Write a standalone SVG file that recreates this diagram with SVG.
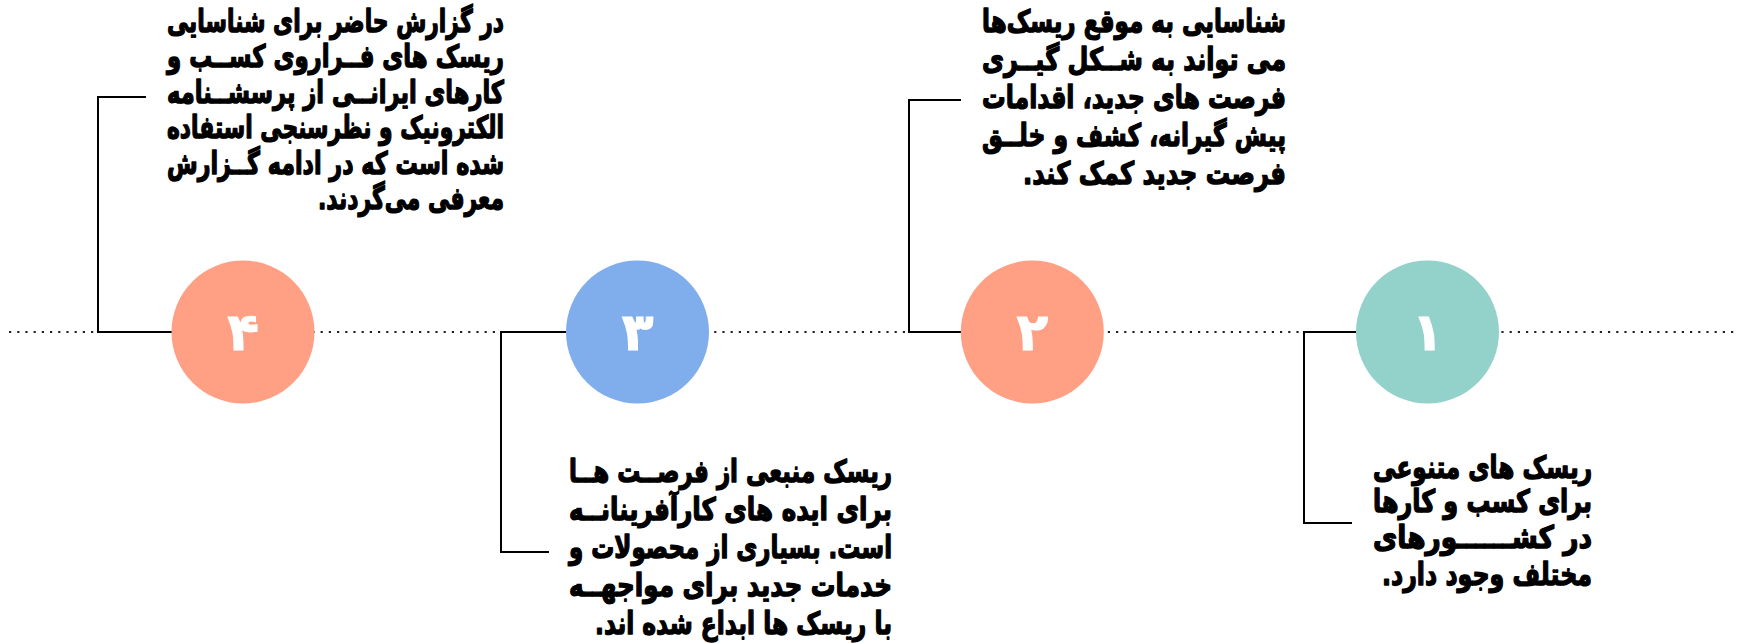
<svg xmlns="http://www.w3.org/2000/svg" width="1737" height="643" viewBox="0 0 1737 643">
<style>
.bg{fill:#ffffff}
.dots{stroke:#222;stroke-width:2.2;stroke-dasharray:2.2 6;fill:none}
.br{stroke:#000;stroke-width:2;fill:none}
.c-salmon{fill:#FFA085}
.c-blue{fill:#80ADEC}
.c-teal{fill:#93D2CB}
.num{font-family:"DejaVu Sans",sans-serif;font-weight:bold;font-size:52px;fill:#fff;stroke:#fff;stroke-width:1px;text-anchor:middle}
.t{font-family:"DejaVu Sans",sans-serif;font-weight:bold;font-size:31px;fill:#000;stroke:#000;stroke-width:1.4px;stroke-linejoin:round;direction:rtl;text-anchor:start}
</style>
<rect class="bg" x="0" y="0" width="1737" height="643"/>
<g id="connectors">
<line class="dots" x1="9" y1="332" x2="1737" y2="332"/>
<path class="br" d="M146,97 H98 V332 H172"/>
<path class="br" d="M566,332 H501 V552 H549"/>
<path class="br" d="M961,100 H909 V332 H961"/>
<path class="br" d="M1356,332 H1304 V523 H1352"/>
</g>
<g id="node4">
<circle class="c-salmon" cx="243" cy="332" r="71.5"/>
<text class="num" x="243" y="350">۴</text>
<text class="t" x="504" y="31.7" textLength="337" lengthAdjust="spacingAndGlyphs">در گزارش حاضر برای شناسایی</text>
<text class="t" x="504" y="67.2" textLength="337" lengthAdjust="spacingAndGlyphs">ریسک های فــراروی کســب و</text>
<text class="t" x="504" y="102.7" textLength="337" lengthAdjust="spacingAndGlyphs">کارهای ایرانــی از پرسشــنامه</text>
<text class="t" x="504" y="138.2" textLength="337" lengthAdjust="spacingAndGlyphs">الکترونیک و نظرسنجی استفاده</text>
<text class="t" x="504" y="173.7" textLength="337" lengthAdjust="spacingAndGlyphs">شده است که در ادامه گــزارش</text>
<text class="t" x="504" y="209.2" textLength="186" lengthAdjust="spacingAndGlyphs">معرفی می‌گردند.</text>
</g>
<g id="node3">
<circle class="c-blue" cx="637.5" cy="332" r="71.5"/>
<text class="num" x="637.5" y="350">۳</text>
<text class="t" x="892" y="481.7" textLength="323" lengthAdjust="spacingAndGlyphs">ریسک منبعی از فرصــت هــا</text>
<text class="t" x="892" y="519.7" textLength="323" lengthAdjust="spacingAndGlyphs">برای ایده های کارآفرینانــه</text>
<text class="t" x="892" y="557.7" textLength="323" lengthAdjust="spacingAndGlyphs">است. بسیاری از محصولات و</text>
<text class="t" x="892" y="595.7" textLength="323" lengthAdjust="spacingAndGlyphs">خدمات جدید برای مواجهــه</text>
<text class="t" x="892" y="633.5" textLength="297" lengthAdjust="spacingAndGlyphs">با ریسک ها ابداع شده اند.</text>
</g>
<g id="node2">
<circle class="c-salmon" cx="1032.3" cy="332" r="71.5"/>
<text class="num" x="1032.3" y="350">۲</text>
<text class="t" x="1286" y="31.7" textLength="304" lengthAdjust="spacingAndGlyphs">شناسایی به موقع ریسک‌ها</text>
<text class="t" x="1286" y="69.7" textLength="304" lengthAdjust="spacingAndGlyphs">می تواند به شــکل گیــری</text>
<text class="t" x="1286" y="107.7" textLength="304" lengthAdjust="spacingAndGlyphs">فرصت های جدید، اقدامات</text>
<text class="t" x="1286" y="145.7" textLength="304" lengthAdjust="spacingAndGlyphs">پیش گیرانه، کشف و خلــق</text>
<text class="t" x="1286" y="183.5" textLength="263" lengthAdjust="spacingAndGlyphs">فرصت جدید کمک کند.</text>
</g>
<g id="node1">
<circle class="c-teal" cx="1427.5" cy="332" r="71.5"/>
<text class="num" x="1427.5" y="350">۱</text>
<text class="t" x="1592" y="477.5" textLength="219" lengthAdjust="spacingAndGlyphs">ریسک های متنوعی</text>
<text class="t" x="1592" y="511.5" textLength="219" lengthAdjust="spacingAndGlyphs">برای کسب و کارها</text>
<text class="t" x="1592" y="548" textLength="219" lengthAdjust="spacingAndGlyphs">در کشــــــورهای</text>
<text class="t" x="1592" y="585" textLength="210" lengthAdjust="spacingAndGlyphs">مختلف وجود دارد.</text>
</g>
</svg>
